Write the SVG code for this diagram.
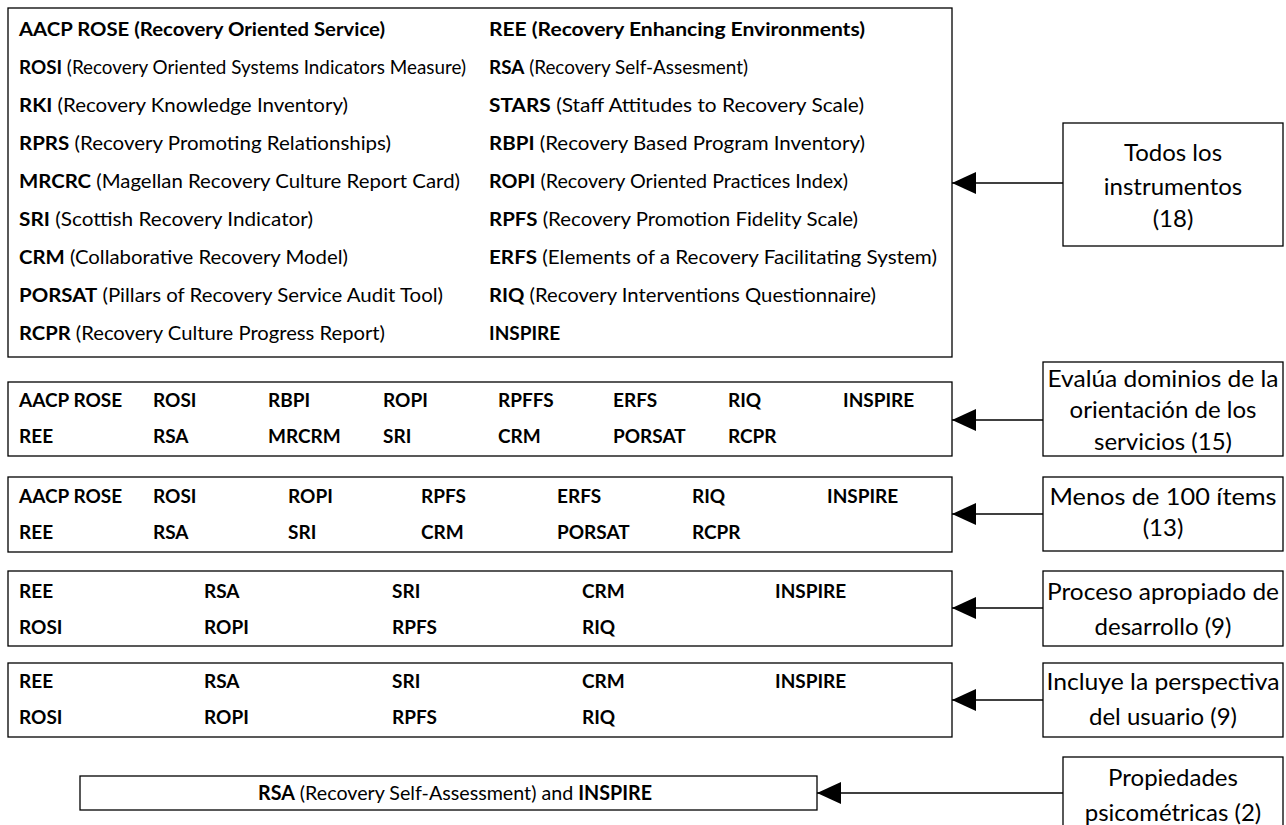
<svg xmlns="http://www.w3.org/2000/svg" width="1286" height="825" viewBox="0 0 1286 825">
<style>
  text { font-family: Lato, "Liberation Sans", sans-serif; font-size: 19px; fill: #000; }
  .b { font-weight: bold; }
  .c { text-anchor: middle; }
  .lbl { font-size: 24px; }
  rect { fill: #fff; stroke: #000; stroke-width: 1.3; }
  .conn line { stroke: #000; stroke-width: 1.3; }
</style>
<defs>
  <marker id="arr" viewBox="0 0 24 22" refX="24" refY="11" markerWidth="24" markerHeight="22" markerUnits="userSpaceOnUse" orient="auto">
    <path d="M0,0 L24,11 L0,22 Z" fill="#000"/>
  </marker>
</defs>
<rect x="0" y="0" width="1286" height="825" style="fill:#fff;stroke:none"/>

<g id="all-instruments">
  <rect x="8" y="8" width="944" height="349"/>
  <text x="19" y="36" class="b" textLength="366" lengthAdjust="spacingAndGlyphs">AACP ROSE (Recovery Oriented Service)</text>
  <text x="19" y="74" textLength="447" lengthAdjust="spacingAndGlyphs"><tspan class="b">ROSI</tspan> (Recovery Oriented Systems Indicators Measure)</text>
  <text x="19" y="112" textLength="329" lengthAdjust="spacingAndGlyphs"><tspan class="b">RKI</tspan> (Recovery Knowledge Inventory)</text>
  <text x="19" y="150" textLength="372" lengthAdjust="spacingAndGlyphs"><tspan class="b">RPRS</tspan> (Recovery Promoting Relationships)</text>
  <text x="19" y="188" textLength="441" lengthAdjust="spacingAndGlyphs"><tspan class="b">MRCRC</tspan> (Magellan Recovery Culture Report Card)</text>
  <text x="19" y="226" textLength="294" lengthAdjust="spacingAndGlyphs"><tspan class="b">SRI</tspan> (Scottish Recovery Indicator)</text>
  <text x="19" y="264" textLength="329" lengthAdjust="spacingAndGlyphs"><tspan class="b">CRM</tspan> (Collaborative Recovery Model)</text>
  <text x="19" y="302" textLength="424" lengthAdjust="spacingAndGlyphs"><tspan class="b">PORSAT</tspan> (Pillars of Recovery Service Audit Tool)</text>
  <text x="19" y="340" textLength="366" lengthAdjust="spacingAndGlyphs"><tspan class="b">RCPR</tspan> (Recovery Culture Progress Report)</text>
  <text x="489" y="36" class="b" textLength="376" lengthAdjust="spacingAndGlyphs">REE (Recovery Enhancing Environments)</text>
  <text x="489" y="74" textLength="259" lengthAdjust="spacingAndGlyphs"><tspan class="b">RSA</tspan> (Recovery Self-Assesment)</text>
  <text x="489" y="112" textLength="375" lengthAdjust="spacingAndGlyphs"><tspan class="b">STARS</tspan> (Staff Attitudes to Recovery Scale)</text>
  <text x="489" y="150" textLength="376" lengthAdjust="spacingAndGlyphs"><tspan class="b">RBPI</tspan> (Recovery Based Program Inventory)</text>
  <text x="489" y="188" textLength="359" lengthAdjust="spacingAndGlyphs"><tspan class="b">ROPI</tspan> (Recovery Oriented Practices Index)</text>
  <text x="489" y="226" textLength="369" lengthAdjust="spacingAndGlyphs"><tspan class="b">RPFS</tspan> (Recovery Promotion Fidelity Scale)</text>
  <text x="489" y="264" textLength="448" lengthAdjust="spacingAndGlyphs"><tspan class="b">ERFS</tspan> (Elements of a Recovery Facilitating System)</text>
  <text x="489" y="302" textLength="387" lengthAdjust="spacingAndGlyphs"><tspan class="b">RIQ</tspan> (Recovery Interventions Questionnaire)</text>
  <text x="489" y="340" class="b">INSPIRE</text>
</g>

<g id="label-todos" class="lbl">
  <rect x="1063" y="123" width="220" height="123"/>
  <text x="1173" y="161" class="c lbl">Todos los</text>
  <text x="1173" y="195" class="c lbl">instrumentos</text>
  <text x="1173" y="227" class="c lbl">(18)</text>
</g>

<g id="service-domains">
  <rect x="8" y="382" width="944" height="74"/>
  <text x="19" y="407" class="b">AACP ROSE</text>
  <text x="153" y="407" class="b">ROSI</text>
  <text x="268" y="407" class="b">RBPI</text>
  <text x="383" y="407" class="b">ROPI</text>
  <text x="498" y="407" class="b">RPFFS</text>
  <text x="613" y="407" class="b">ERFS</text>
  <text x="728" y="407" class="b">RIQ</text>
  <text x="843" y="407" class="b">INSPIRE</text>
  <text x="19" y="443" class="b">REE</text>
  <text x="153" y="443" class="b">RSA</text>
  <text x="268" y="443" class="b">MRCRM</text>
  <text x="383" y="443" class="b">SRI</text>
  <text x="498" y="443" class="b">CRM</text>
  <text x="613" y="443" class="b">PORSAT</text>
  <text x="728" y="443" class="b">RCPR</text>
</g>

<g id="label-evalua">
  <rect x="1043" y="362" width="240" height="94"/>
  <text x="1163" y="387" class="c lbl" textLength="231" lengthAdjust="spacingAndGlyphs">Evalúa dominios de la</text>
  <text x="1163" y="418" class="c lbl">orientación de los</text>
  <text x="1163" y="450" class="c lbl">servicios (15)</text>
</g>

<g id="under-100">
  <rect x="8" y="477" width="944" height="75"/>
  <text x="19" y="503" class="b">AACP ROSE</text>
  <text x="153" y="503" class="b">ROSI</text>
  <text x="288" y="503" class="b">ROPI</text>
  <text x="421" y="503" class="b">RPFS</text>
  <text x="557" y="503" class="b">ERFS</text>
  <text x="692" y="503" class="b">RIQ</text>
  <text x="827" y="503" class="b">INSPIRE</text>
  <text x="19" y="539" class="b">REE</text>
  <text x="153" y="539" class="b">RSA</text>
  <text x="288" y="539" class="b">SRI</text>
  <text x="421" y="539" class="b">CRM</text>
  <text x="557" y="539" class="b">PORSAT</text>
  <text x="692" y="539" class="b">RCPR</text>
</g>

<g id="label-menos">
  <rect x="1043" y="477" width="240" height="74"/>
  <text x="1163" y="505" class="c lbl" textLength="227" lengthAdjust="spacingAndGlyphs">Menos de 100 ítems</text>
  <text x="1163" y="536" class="c lbl">(13)</text>
</g>

<g id="development">
  <rect x="8" y="571" width="944" height="75"/>
  <text x="19" y="598" class="b">REE</text>
  <text x="204" y="598" class="b">RSA</text>
  <text x="392" y="598" class="b">SRI</text>
  <text x="582" y="598" class="b">CRM</text>
  <text x="775" y="598" class="b">INSPIRE</text>
  <text x="19" y="634" class="b">ROSI</text>
  <text x="204" y="634" class="b">ROPI</text>
  <text x="392" y="634" class="b">RPFS</text>
  <text x="582" y="634" class="b">RIQ</text>
</g>

<g id="label-proceso">
  <rect x="1043" y="571" width="240" height="75"/>
  <text x="1163" y="600" class="c lbl" textLength="232" lengthAdjust="spacingAndGlyphs">Proceso apropiado de</text>
  <text x="1163" y="635" class="c lbl">desarrollo (9)</text>
</g>

<g id="user-perspective">
  <rect x="8" y="663" width="944" height="74"/>
  <text x="19" y="688" class="b">REE</text>
  <text x="204" y="688" class="b">RSA</text>
  <text x="392" y="688" class="b">SRI</text>
  <text x="582" y="688" class="b">CRM</text>
  <text x="775" y="688" class="b">INSPIRE</text>
  <text x="19" y="724" class="b">ROSI</text>
  <text x="204" y="724" class="b">ROPI</text>
  <text x="392" y="724" class="b">RPFS</text>
  <text x="582" y="724" class="b">RIQ</text>
</g>

<g id="label-incluye">
  <rect x="1043" y="663" width="240" height="74"/>
  <text x="1163" y="690" class="c lbl" textLength="233" lengthAdjust="spacingAndGlyphs">Incluye la perspectiva</text>
  <text x="1163" y="725" class="c lbl">del usuario (9)</text>
</g>

<g id="psychometric">
  <rect x="80" y="776" width="737" height="34"/>
  <text x="455" y="800" class="c" style="font-size:20px" textLength="394" lengthAdjust="spacingAndGlyphs"><tspan class="b">RSA</tspan> (Recovery Self-Assessment) and <tspan class="b">INSPIRE</tspan></text>
</g>

<g id="label-propiedades">
  <rect x="1063" y="757" width="220" height="80"/>
  <text x="1173" y="786" class="c lbl">Propiedades</text>
  <text x="1173" y="821" class="c lbl">psicométricas (2)</text>
</g>

<g id="connectors" class="conn">
  <line x1="1063" y1="183" x2="952" y2="183" marker-end="url(#arr)"/>
  <line x1="1043" y1="420" x2="952" y2="420" marker-end="url(#arr)"/>
  <line x1="1043" y1="514" x2="952" y2="514" marker-end="url(#arr)"/>
  <line x1="1043" y1="608" x2="952" y2="608" marker-end="url(#arr)"/>
  <line x1="1043" y1="700" x2="952" y2="700" marker-end="url(#arr)"/>
  <line x1="1063" y1="793" x2="817" y2="793" marker-end="url(#arr)"/>
</g>
</svg>
